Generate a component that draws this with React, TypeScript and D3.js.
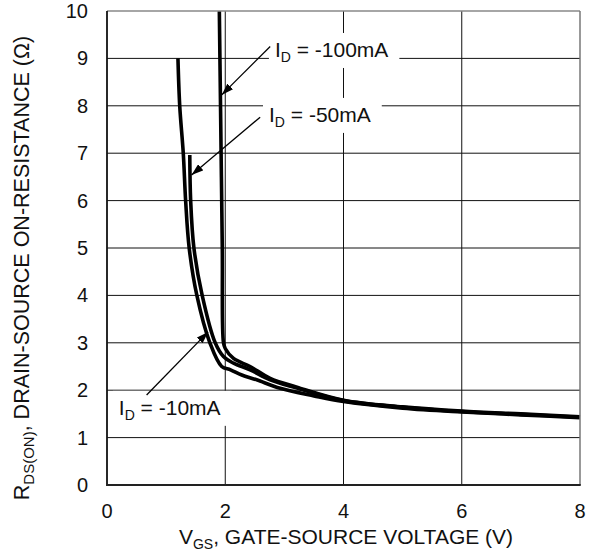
import { useEffect, useRef } from "react";
import * as d3 from "d3";

// axis ticks
const xTicks = [0, 2, 4, 6, 8];
const yTicks = [0, 1, 2, 3, 4, 5, 6, 7, 8, 9, 10];

// ID = -10mA
const vgs10 = [1.2, 1.23, 1.29, 1.33, 1.39, 1.52, 1.74, 1.94, 2.09, 2.28, 2.53, 2.93, 3.5, 4.0, 5.0, 6.0, 7.0, 8.0];
const rds10 = [9.0, 8.0, 7.0, 6.0, 5.0, 4.0, 3.0, 2.5, 2.43, 2.32, 2.22, 2.04, 1.88, 1.76, 1.62, 1.54, 1.48, 1.42];

// ID = -50mA
const vgs50 = [1.4, 1.415, 1.47, 1.61, 1.83, 1.97, 2.14, 2.42, 2.76, 3.2, 4.0, 5.0, 6.0, 7.0, 8.0];
const rds50 = [6.96, 6.0, 5.0, 4.0, 3.0, 2.71, 2.57, 2.43, 2.22, 2.05, 1.78, 1.64, 1.55, 1.49, 1.43];

// ID = -100mA
const vgs100 = [1.9, 1.92, 1.95, 1.97, 2.0, 2.14, 2.42, 2.76, 3.2, 4.0, 5.0, 6.0, 7.0, 8.0];
const rds100 = [10.0, 8.0, 5.0, 3.0, 2.88, 2.67, 2.5, 2.25, 2.07, 1.79, 1.65, 1.56, 1.5, 1.44];

// annotation labels (data units)
const labelText = ["-100mA", "-50mA", "-10mA"];
const labelAt = [[2.84, 9.03], [2.74, 7.66], [0.2, 1.48]];
const arrowFrom = [[2.76, 9.25], [2.59, 7.76], [0.67, 1.9]];
const arrowTo = [[1.94, 8.23], [1.43, 6.54], [1.71, 3.23]];

const series = [
  { v: vgs10, r: rds10 },
  { v: vgs50, r: rds50 },
  { v: vgs100, r: rds100 },
];

const FONT = "'Liberation Sans', Arial, sans-serif";

const App = () => {
  const svgRef = useRef<SVGSVGElement | null>(null);

  useEffect(() => {
    const width = 598;
    const height = 556;
    const margin = { top: 11, right: 18, bottom: 71, left: 107 };

    d3.select(svgRef.current).selectAll("*").remove();
    const svg = d3.select(svgRef.current).attr("width", width).attr("height", height);

    const x = d3.scaleLinear().domain([0, 8]).range([margin.left, width - margin.right]);
    const y = d3.scaleLinear().domain([0, 10]).range([height - margin.bottom, margin.top]);

    svg.append("rect").attr("width", width).attr("height", height).attr("fill", "white");

    const defs = svg.append("defs");
    defs
      .append("marker")
      .attr("id", "arrowhead")
      .attr("viewBox", "0 0 12 8")
      .attr("refX", 12)
      .attr("refY", 4)
      .attr("markerWidth", 12)
      .attr("markerHeight", 8)
      .attr("markerUnits", "userSpaceOnUse")
      .attr("orient", "auto")
      .append("path")
      .attr("d", "M0,0 L12,4 L0,8 Z")
      .attr("fill", "#000");

    // grid
    svg
      .selectAll(".hgrid")
      .data(yTicks.slice(1, -1))
      .enter()
      .append("line")
      .attr("x1", x(0))
      .attr("x2", x(8))
      .attr("y1", (d) => y(d))
      .attr("y2", (d) => y(d))
      .attr("stroke", "#111")
      .attr("stroke-width", 1);

    svg
      .selectAll(".vgrid")
      .data(xTicks.slice(1, -1))
      .enter()
      .append("line")
      .attr("x1", (d) => x(d))
      .attr("x2", (d) => x(d))
      .attr("y1", y(0))
      .attr("y2", y(10))
      .attr("stroke", "#111")
      .attr("stroke-width", 1);

    // label boxes + text
    const labelG = svg.append("g");
    labelText.forEach((t, i) => {
      const g = labelG.append("g");
      const box = g.append("rect").attr("fill", "white");
      const txt = g
        .append("text")
        .attr("x", x(labelAt[i][0]))
        .attr("y", y(labelAt[i][1]))
        .attr("fill", "#111")
        .style("font-family", FONT)
        .style("font-size", "21px");
      txt.append("tspan").text("I");
      txt.append("tspan").attr("dy", 5).style("font-size", "14px").text("D");
      txt.append("tspan").attr("dy", -5).text(` = ${t}`);
      const len = (txt.node() as SVGTextElement).getComputedTextLength();
      box
        .attr("x", x(labelAt[i][0]) - 6)
        .attr("y", y(labelAt[i][1]) - 24)
        .attr("width", len + 17)
        .attr("height", 35);
    });

    // curves
    const line = d3
      .line<[number, number]>()
      .x((d) => x(d[0]))
      .y((d) => y(d[1]))
      .curve(d3.curveCatmullRom.alpha(0.5));

    series.forEach((s) => {
      const pts = s.v.map((v, i) => [v, s.r[i]] as [number, number]);
      svg
        .append("path")
        .attr("d", line(pts))
        .attr("fill", "none")
        .attr("stroke", "#000")
        .attr("stroke-width", 3.6)
        .attr("stroke-linejoin", "round");
    });

    // frame
    svg
      .append("line")
      .attr("x1", x(0))
      .attr("x2", x(8))
      .attr("y1", y(10))
      .attr("y2", y(10))
      .attr("stroke", "#888")
      .attr("stroke-width", 1.5);
    svg
      .append("line")
      .attr("x1", x(8))
      .attr("x2", x(8))
      .attr("y1", y(0))
      .attr("y2", y(10))
      .attr("stroke", "#777")
      .attr("stroke-width", 1.5);
    svg
      .append("line")
      .attr("x1", x(0))
      .attr("x2", x(0))
      .attr("y1", y(0) + 1)
      .attr("y2", y(10))
      .attr("stroke", "#111")
      .attr("stroke-width", 1.8);
    svg
      .append("line")
      .attr("x1", x(0))
      .attr("x2", x(8) + 0.75)
      .attr("y1", y(0))
      .attr("y2", y(0))
      .attr("stroke", "#222")
      .attr("stroke-width", 2);

    // arrows
    arrowFrom.forEach((f, i) => {
      svg
        .append("line")
        .attr("x1", x(f[0]))
        .attr("y1", y(f[1]))
        .attr("x2", x(arrowTo[i][0]))
        .attr("y2", y(arrowTo[i][1]))
        .attr("stroke", "#000")
        .attr("stroke-width", 1.3)
        .attr("marker-end", "url(#arrowhead)");
    });

    // tick labels
    svg
      .selectAll(".xtick")
      .data(xTicks)
      .enter()
      .append("text")
      .attr("x", (d) => x(d))
      .attr("y", 518)
      .attr("text-anchor", "middle")
      .attr("fill", "#111")
      .style("font-family", FONT)
      .style("font-size", "20px")
      .text((d) => d);

    svg
      .selectAll(".ytick")
      .data(yTicks)
      .enter()
      .append("text")
      .attr("x", 88)
      .attr("y", (d) => y(d) + 7)
      .attr("text-anchor", "end")
      .attr("fill", "#111")
      .style("font-family", FONT)
      .style("font-size", "20px")
      .text((d) => d);

    // axis titles
    const xt = svg
      .append("text")
      .attr("x", 346)
      .attr("y", 544)
      .attr("text-anchor", "middle")
      .attr("fill", "#111")
      .style("font-family", FONT)
      .style("font-size", "21px");
    xt.append("tspan").text("V");
    xt.append("tspan").attr("dy", 5).style("font-size", "14px").text("GS");
    xt.append("tspan").attr("dy", -5).text(", GATE-SOURCE VOLTAGE (V)");

    const yt = svg
      .append("text")
      .attr("transform", "translate(29,268) rotate(-90)")
      .attr("text-anchor", "middle")
      .attr("fill", "#111")
      .style("font-family", FONT)
      .style("font-size", "21.5px");
    yt.append("tspan").text("R");
    yt.append("tspan").attr("dy", 5).style("font-size", "15px").text("DS(ON)");
    yt.append("tspan").attr("dy", -5).text(", DRAIN-SOURCE ON-RESISTANCE (Ω)");
  }, []);

  return (
    <div style={{ position: "absolute", left: 0, top: 0 }}>
      <svg ref={svgRef}></svg>
    </div>
  );
};

export default App;
